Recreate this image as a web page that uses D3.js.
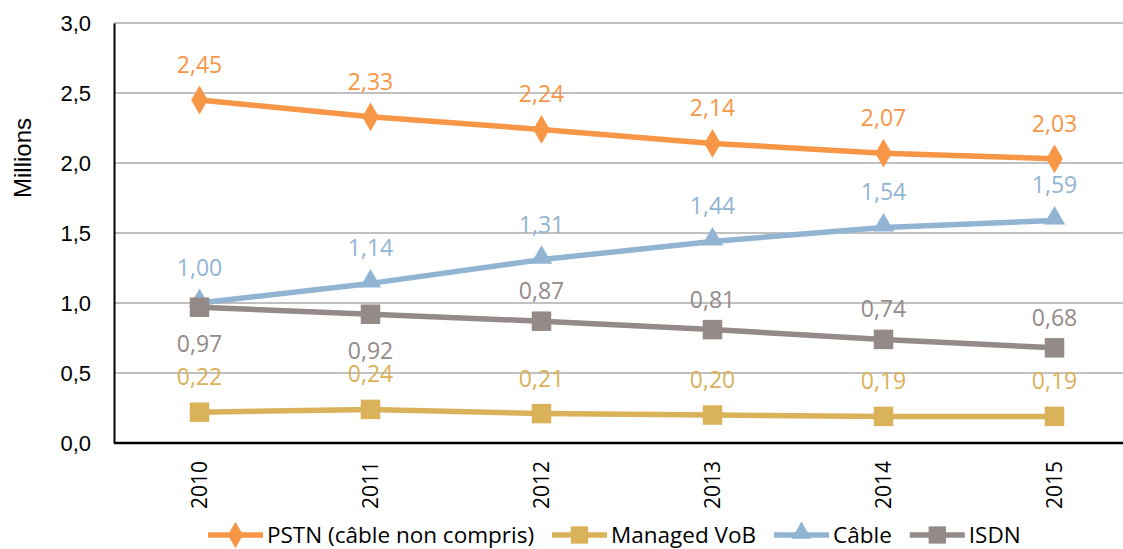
<!DOCTYPE html>
<html lang="fr">
<head>
<meta charset="UTF-8">
<title>Lignes fixes</title>
<style>
  body { margin: 0; background: #fff; }
  svg { display: block; }
</style>
</head>
<body>
<div id="chart"></div>
<script src="https://d3js.org/d3.v7.min.js"></script>
<script>
  const years = ["2010", "2011", "2012", "2013", "2014", "2015"];
  const pstn = [2.45, 2.33, 2.24, 2.14, 2.07, 2.03];
  const managedVoB = [0.22, 0.24, 0.21, 0.20, 0.19, 0.19];
  const cable = [1.00, 1.14, 1.31, 1.44, 1.54, 1.59];
  const isdn = [0.97, 0.92, 0.87, 0.81, 0.74, 0.68];
  const yTicks = [0, 0.5, 1, 1.5, 2, 2.5, 3];

  const series = [
    { name: "PSTN (câble non compris)", values: pstn, color: "#F79646", symbol: d3.symbolDiamond, below: [] },
    { name: "Managed VoB", values: managedVoB, color: "#D9B25A", symbol: d3.symbolSquare, below: [] },
    { name: "Câble", values: cable, color: "#92B4D3", symbol: d3.symbolTriangle, below: [] },
    { name: "ISDN", values: isdn, color: "#948A88", symbol: d3.symbolSquare, below: ["2010", "2011"] }
  ];

  const W = 1123, H = 549;
  const plot = { left: 114, right: 1140, top: 23, bottom: 443 };

  const svg = d3.select("#chart").append("svg")
      .attr("width", W)
      .attr("height", H);

  const x = d3.scalePoint()
      .domain(years)
      .range([plot.left, plot.right])
      .padding(0.5);

  const y = d3.scaleLinear()
      .domain([0, 3])
      .range([plot.bottom, plot.top]);

  const fmt = v => d3.format(".2f")(v).replace(".", ",");
  const fmtTick = v => d3.format(".1f")(v).replace(".", ",");

  // gridlines
  svg.append("g")
    .selectAll("line")
    .data(yTicks.filter(t => t > 0))
    .join("line")
      .attr("x1", plot.left)
      .attr("x2", W)
      .attr("y1", d => y(d))
      .attr("y2", d => y(d))
      .attr("stroke", "#C0C0C0")
      .attr("stroke-width", 2);

  // y axis
  const yAxis = svg.append("g")
      .attr("transform", `translate(${plot.left},0)`)
      .call(d3.axisLeft(y).tickValues(yTicks).tickFormat(fmtTick).tickSize(0).tickPadding(23));
  yAxis.select(".domain").attr("stroke", "#000").attr("stroke-width", 2);
  yAxis.selectAll("text")
      .attr("font-family", "Liberation Sans, Arial, sans-serif")
      .attr("font-size", 22)
      .attr("fill", "#000");

  // x axis
  const xAxis = svg.append("g")
      .attr("transform", `translate(0,${plot.bottom})`)
      .call(d3.axisBottom(x).tickSize(0).tickPadding(0));
  xAxis.select(".domain")
      .attr("d", `M${plot.left},0H${W}`)
      .attr("stroke", "#000").attr("stroke-width", 2.5);
  xAxis.selectAll("text")
      .attr("font-family", "Open Sans, sans-serif")
      .attr("font-size", 21)
      .attr("fill", "#000")
      .attr("text-anchor", "end")
      .attr("dy", "0.35em")
      .attr("transform", "translate(0,18) rotate(-90)");

  svg.append("text")
      .attr("transform", `translate(31,158) rotate(-90)`)
      .attr("text-anchor", "middle")
      .attr("font-family", "Liberation Sans, Arial, sans-serif")
      .attr("font-size", 24)
      .attr("fill", "#000")
      .text("Millions");

  const line = d3.line()
      .x((d, i) => x(years[i]))
      .y(d => y(d));

  series.forEach(s => {
    const g = svg.append("g");
    g.append("path")
        .datum(s.values)
        .attr("d", line)
        .attr("fill", "none")
        .attr("stroke", s.color)
        .attr("stroke-width", 5.5)
        .attr("stroke-linejoin", "round");

    const size = s.symbol === d3.symbolDiamond ? 240 : s.symbol === d3.symbolTriangle ? 200 : 380;
    g.selectAll("path.m")
      .data(s.values)
      .join("path")
        .attr("class", "m")
        .attr("d", d3.symbol().type(s.symbol).size(size))
        .attr("transform", (d, i) => {
          const dy = s.symbol === d3.symbolTriangle ? -2 : 0;
          return `translate(${x(years[i])},${y(d) + dy})`;
        })
        .attr("fill", s.color);
  });

  // data labels (drawn after lines)
  series.forEach(s => {
    svg.append("g")
      .selectAll("text")
      .data(s.values)
      .join("text")
        .attr("x", (d, i) => x(years[i]))
        .attr("y", (d, i) => {
          if (s.below.includes(years[i])) return y(d) + 45;
          return y(d) - (s.name === "ISDN" ? 22 : 27);
        })
        .attr("text-anchor", "middle")
        .attr("font-family", "Open Sans, sans-serif")
        .attr("font-size", 23)
        .attr("fill", s.color)
        .text(fmt);
  });

  // legend
  const legend = svg.append("g").attr("transform", "translate(0,535)");
  let lx = 208;
  series.forEach(s => {
    const item = legend.append("g").attr("transform", `translate(${lx},0)`);
    item.append("line")
        .attr("x1", 0).attr("x2", 55)
        .attr("stroke", s.color)
        .attr("stroke-width", 5.5);
    const size = s.symbol === d3.symbolDiamond ? 200 : s.symbol === d3.symbolTriangle ? 170 : 300;
    item.append("path")
        .attr("d", d3.symbol().type(s.symbol).size(size))
        .attr("transform", `translate(27.5,${s.symbol === d3.symbolTriangle ? -2 : 0})`)
        .attr("fill", s.color);
    const t = item.append("text")
        .attr("x", 59)
        .attr("dy", "0.35em")
        .attr("font-family", "Open Sans, sans-serif")
        .attr("font-size", 22.5)
        .attr("fill", "#000")
        .text(s.name);
    lx += 59 + t.node().getComputedTextLength() + 18;
  });
</script>
</body>
</html>
